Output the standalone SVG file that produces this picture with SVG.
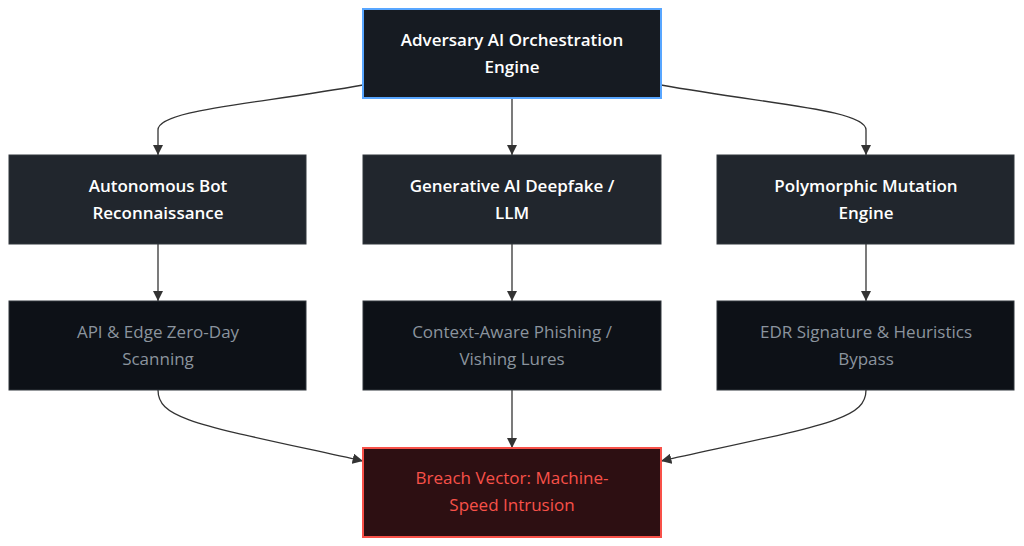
<svg xmlns="http://www.w3.org/2000/svg" width="1024" height="546" viewBox="0 0 1024 546">
<style>
text{font-family:"Open Sans","DejaVu Sans",sans-serif;font-size:17px;text-anchor:middle}
.top rect{fill:#161b22;stroke:#58a6ff;stroke-width:2}
.top text{fill:#ffffff;font-weight:600}
.mid rect{fill:#21262d;stroke:#30363d;stroke-width:1}
.mid text{fill:#ffffff;font-weight:600}
.low rect{fill:#0d1117;stroke:#30363d;stroke-width:1}
.low text{fill:#8b949e}
.bad rect{fill:#2d0f12;stroke:#f85149;stroke-width:2}
.bad text{fill:#f85149}
.edge{fill:none;stroke:#333;stroke-width:1.3;marker-end:url(#a)}
</style>
<defs><marker id="a" viewBox="0 0 10 10" refX="10" refY="5" markerWidth="8" markerHeight="8" orient="auto"><path d="M0,0L10,5L0,10z" fill="#333"/></marker></defs>
<rect width="1024" height="546" fill="#fff"/>
<g id="connectors">
<path class="edge" d="M363,85 C250,105 158,110 158,130 L158,155"/>
<path class="edge" d="M512,98 L512,155"/>
<path class="edge" d="M661,85 C774,105 866,110 866,130 L866,155"/>
<path class="edge" d="M158,244 L158,301"/>
<path class="edge" d="M512,244 L512,301"/>
<path class="edge" d="M866,244 L866,301"/>
<path class="edge" d="M158,390 C158,420 200,425 363,461"/>
<path class="edge" d="M512,390 L512,448"/>
<path class="edge" d="M866,390 C866,420 824,425 661,461"/>
</g>
<g id="n1" class="top"><rect x="363" y="9" width="298" height="89"/><text x="512" y="46">Adversary AI Orchestration</text><text x="512" y="73">Engine</text></g>
<g id="n2" class="mid"><rect x="9" y="155" width="297" height="89"/><text x="158" y="192">Autonomous Bot</text><text x="158" y="219">Reconnaissance</text></g>
<g id="n3" class="mid"><rect x="363" y="155" width="298" height="89"/><text x="512" y="192">Generative AI Deepfake /</text><text x="512" y="219">LLM</text></g>
<g id="n4" class="mid"><rect x="717" y="155" width="297" height="89"/><text x="866" y="192">Polymorphic Mutation</text><text x="866" y="219">Engine</text></g>
<g id="n5" class="low"><rect x="9" y="301" width="297" height="89"/><text x="158" y="338">API &amp; Edge Zero-Day</text><text x="158" y="365">Scanning</text></g>
<g id="n6" class="low"><rect x="363" y="301" width="298" height="89"/><text x="512" y="338">Context-Aware Phishing /</text><text x="512" y="365">Vishing Lures</text></g>
<g id="n7" class="low"><rect x="717" y="301" width="297" height="89"/><text x="866" y="338">EDR Signature &amp; Heuristics</text><text x="866" y="365">Bypass</text></g>
<g id="n8" class="bad"><rect x="363" y="448" width="298" height="89"/><text x="512" y="484">Breach Vector: Machine-</text><text x="512" y="511">Speed Intrusion</text></g>
</svg>
